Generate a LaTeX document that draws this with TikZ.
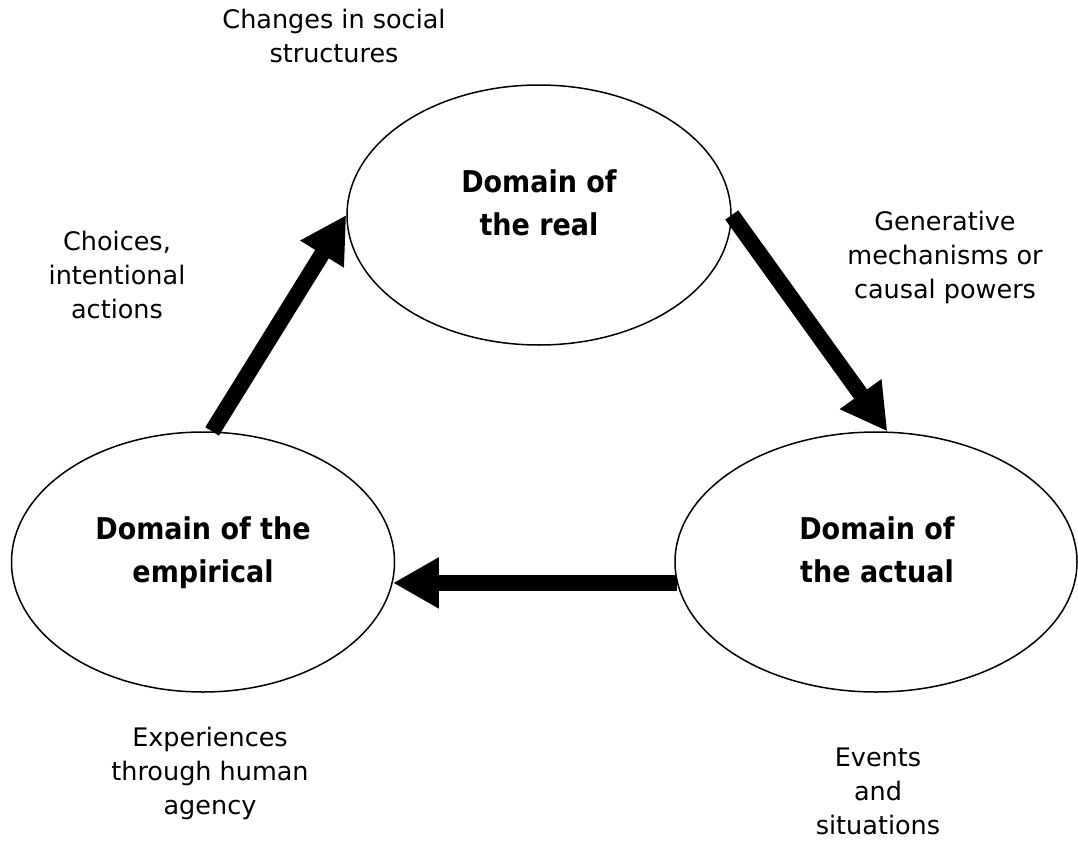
\documentclass[tikz,border=0pt]{standalone}
\usepackage{fontspec}
\setmainfont{DejaVu Sans}
\newfontfamily\bcond{DejaVu Sans Condensed}[BoldFont={DejaVu Sans Condensed Bold}]
\usetikzlibrary{shapes.geometric,arrows.meta}
\begin{document}
\begin{tikzpicture}[x=1pt,y=-1pt,
  dom/.style={draw=black,line width=1.5pt,ellipse,inner sep=0pt,minimum height=260pt},
  domlabel/.style={anchor=base,align=center,font=\bcond\bfseries\fontsize{30}{43}\selectfont},
  note/.style={anchor=base,align=center,font=\fontsize{25.5}{34}\selectfont},
  bigarrow/.style={line width=16pt,-{Triangle[width=48pt,length=46pt]}}]
\useasboundingbox (0,0) rectangle (1078,843);
\node[dom,minimum width=384pt] (real) at (539,215) {};
\node[dom,minimum width=383pt] (emp) at (203,562) {};
\node[dom,minimum width=402pt] (act) at (876,562) {};
\node[domlabel] (reallab) at (539,235) {Domain of\\the real};
\node[domlabel] (emplab) at (203,582) {Domain of the\\empirical};
\node[domlabel] (actlab) at (877,582) {Domain of\\the actual};
\node[note] (changes) at (334,63) {Changes in social\\structures};
\node[note] (choices) at (117,318) {Choices,\\intentional\\actions};
\node[note] (gen) at (945,298) {Generative\\mechanisms or\\causal powers};
\node[note] (exp) at (210,814) {Experiences\\through human\\agency};
\node[note] (events) at (878,834) {Events\\and\\situations};
\draw[bigarrow] (emp.86) -- (real.180.6);
\draw[bigarrow] (real.east) -- (act.85);
\draw[bigarrow] (act.186) -- (emp.-6.4 |- act.186);
\end{tikzpicture}
\end{document}
